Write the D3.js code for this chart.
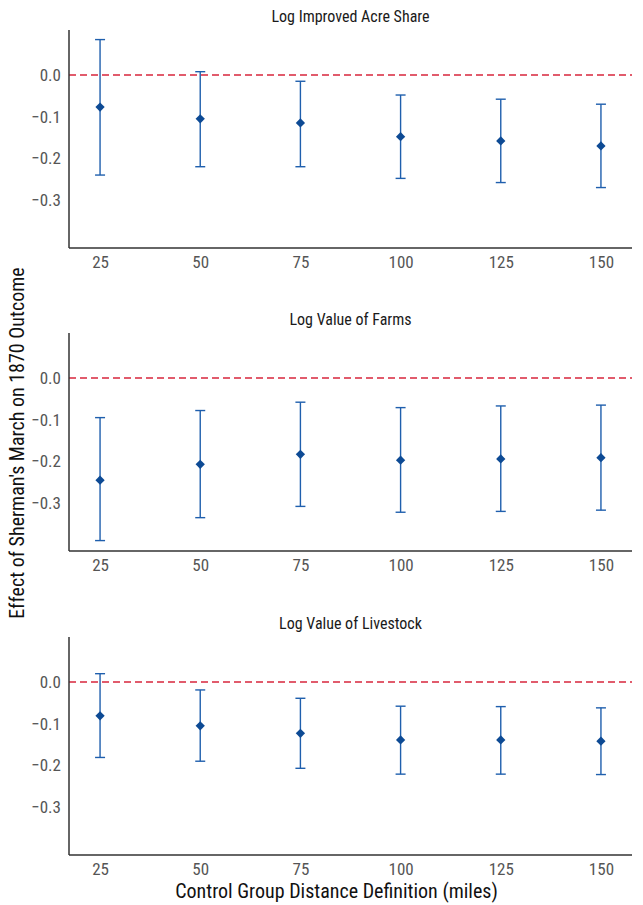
<!DOCTYPE html>
<html><head><meta charset="utf-8">
<script src="https://cdn.jsdelivr.net/npm/d3@7"></script>
<style>body{margin:0;background:#fff}text{font-family:"Liberation Sans Narrow","Roboto Condensed",Roboto,sans-serif}</style>
</head><body><svg width="643" height="905"></svg>
<script>
var distances = [25, 50, 75, 100, 125, 150];
var titles = ['Log Improved Acre Share', 'Log Value of Farms', 'Log Value of Livestock'];
var estimates = [
  [-0.077, -0.105, -0.115, -0.148, -0.158, -0.170],
  [-0.245, -0.207, -0.183, -0.197, -0.194, -0.191],
  [-0.081, -0.105, -0.123, -0.139, -0.139, -0.142]
];
var upper = [
  [0.085, 0.008, -0.015, -0.048, -0.058, -0.070],
  [-0.095, -0.078, -0.058, -0.071, -0.067, -0.065],
  [0.020, -0.019, -0.039, -0.058, -0.059, -0.062]
];
var lower = [
  [-0.240, -0.220, -0.220, -0.248, -0.258, -0.270],
  [-0.390, -0.335, -0.308, -0.322, -0.320, -0.317],
  [-0.181, -0.190, -0.207, -0.221, -0.221, -0.222]
];
var yTicks = [0, -0.1, -0.2, -0.3];

var svg = d3.select('svg');
var left = 69, right = 632, panelH = 218;
var tops = [30, 333, 637];

var x = d3.scaleLinear().domain([17.25, 157.75]).range([left, right]);

titles.forEach(function(t, i) {
  var g = svg.append('g').attr('transform', 'translate(0,' + tops[i] + ')');
  var y = d3.scaleLinear().domain([-0.415, 0.108]).range([panelH, 0]);

  g.append('text').attr('x', (left + right) / 2).attr('y', -8)
    .attr('text-anchor', 'middle').style('font-size', '16px').attr('fill', '#1a1a1a').text(t);

  g.append('line').attr('x1', left).attr('x2', right)
    .attr('y1', y(0)).attr('y2', y(0))
    .attr('stroke', '#d7263d').attr('stroke-width', 1.5).attr('stroke-dasharray', '7,4');

  var yAxis = g.append('g').attr('transform', 'translate(' + left + ',0)')
    .call(d3.axisLeft(y).tickValues(yTicks).tickFormat(d3.format('.1f')).tickSize(0).tickPadding(8));
  var xAxis = g.append('g').attr('transform', 'translate(0,' + panelH + ')')
    .call(d3.axisBottom(x).tickValues(distances).tickSize(0).tickPadding(8));
  [yAxis, xAxis].forEach(function(a) {
    a.select('.domain').attr('stroke', '#333').attr('stroke-width', 1.5);
    a.selectAll('text').style('font-size', '17px').attr('fill', '#555');
  });
  yAxis.select('.domain').attr('d', 'M0,0V' + panelH);
  xAxis.select('.domain').attr('d', 'M' + left + ',0H' + right);

  var col = '#1f5fad';
  distances.forEach(function(d, j) {
    var cx = x(d);
    g.append('line').attr('x1', cx).attr('x2', cx)
      .attr('y1', y(upper[i][j])).attr('y2', y(lower[i][j]))
      .attr('stroke', col).attr('stroke-width', 1.4);
    [upper[i][j], lower[i][j]].forEach(function(v) {
      g.append('line').attr('x1', cx - 5).attr('x2', cx + 5)
        .attr('y1', y(v)).attr('y2', y(v)).attr('stroke', col).attr('stroke-width', 1.4);
    });
    g.append('path').attr('d', d3.symbol(d3.symbolDiamond2, 55)())
      .attr('transform', 'translate(' + cx + ',' + y(estimates[i][j]) + ')')
      .attr('fill', '#0d4a94');
  });
});

svg.append('text').attr('transform', 'translate(24,443) rotate(-90)')
  .attr('text-anchor', 'middle').style('font-size', '20px').attr('fill', '#111')
  .text("Effect of Sherman's March on 1870 Outcome");
svg.append('text').attr('x', (left + right) / 2 - 14).attr('y', 898)
  .attr('text-anchor', 'middle').style('font-size', '20px').attr('fill', '#111')
  .text('Control Group Distance Definition (miles)');
</script></body></html>
